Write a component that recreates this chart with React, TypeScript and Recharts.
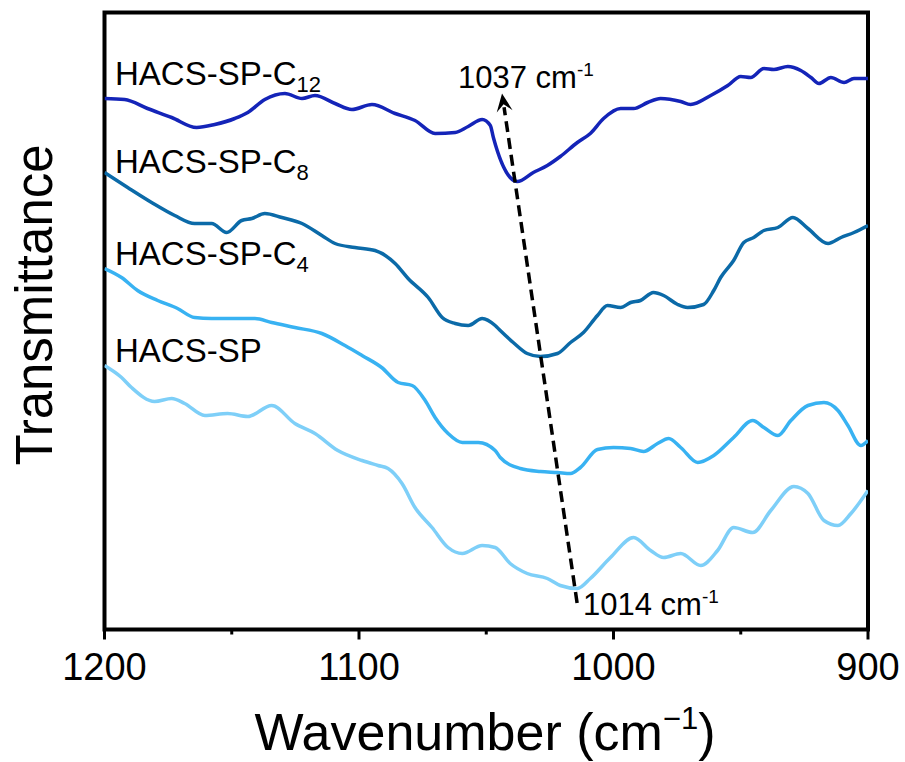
import React from "react";
import { LineChart, Line, XAxis, YAxis, ReferenceArea, ReferenceLine, Customized } from "recharts";

// wavenumber (cm-1) / transmittance (arbitrary units, offset stacked)
const c12 = [
  [1200, 531], [1192.1, 530], [1183.1, 521], [1173.6, 512], [1163.8, 502], [1156.7, 505], [1148.8, 511],
  [1143.7, 517], [1137, 530], [1129.1, 536], [1122.4, 531], [1117.3, 534], [1109.4, 526], [1102.8, 520],
  [1094.9, 525], [1085.8, 516], [1078, 509], [1070.1, 496], [1062.2, 497], [1057.1, 503], [1051.6, 510],
  [1048.4, 504], [1047.2, 492], [1040.6, 452], [1037.8, 448], [1031.5, 457], [1026, 464], [1020.9, 473],
  [1014.2, 487], [1009.1, 496], [1003.9, 511], [997.2, 521], [992.1, 521], [986.6, 527], [981.5, 531],
  [973.6, 528], [969.7, 525], [961.8, 534], [955.1, 544], [950, 553], [946.1, 552], [940.9, 561], [937, 560],
  [931.5, 563], [926.4, 559], [922.4, 552], [919.3, 546], [914.6, 552], [909.4, 547], [905.5, 551], [900, 551],
];
const c8 = [
  [1200, 457], [1190.9, 442], [1181.5, 427], [1172.4, 414], [1164.6, 406], [1157.9, 406], [1152, 397],
  [1146.1, 409], [1142.1, 411], [1137, 416], [1130.3, 412], [1122.4, 406], [1114.6, 394], [1109.4, 386],
  [1101.6, 382], [1093.7, 379], [1085.8, 366], [1080.7, 351], [1072.8, 332], [1067.3, 312], [1062.2, 306],
  [1057.1, 304], [1051.6, 311], [1046.5, 304], [1044.5, 299], [1039.4, 287], [1033.9, 276], [1028.7, 273],
  [1022, 276], [1016.9, 287], [1011.8, 297], [1006.3, 314], [1002.4, 324], [997.2, 322], [993.3, 327],
  [989.4, 329], [984.3, 337], [980.3, 334], [974.8, 325], [970.9, 322], [964.6, 325], [960.6, 339],
  [957.9, 352], [952.8, 369], [948.8, 387], [944.9, 392], [940.9, 399], [935.4, 402], [929.5, 412],
  [923.6, 401], [915.7, 386], [910.6, 392], [905.5, 397], [900, 404],
];
const c4 = [
  [1200, 361], [1193.3, 352], [1187, 339], [1179.1, 329], [1171.3, 321], [1164.6, 312], [1157.9, 311],
  [1151.6, 311], [1140.9, 311], [1134.3, 307], [1125.2, 302], [1114.6, 296], [1105.5, 284], [1098.8, 274],
  [1091.1, 262], [1084.6, 247], [1079.1, 244], [1074, 229], [1070.1, 212], [1065, 196], [1059.4, 187],
  [1053.1, 187], [1046.5, 179], [1044.5, 172], [1036.6, 161], [1028.7, 158], [1022, 157], [1016.9, 156],
  [1013, 162], [1006.3, 180], [1000, 182], [993.3, 181], [988.2, 178], [982.7, 186], [978.3, 191],
  [973.6, 182], [966.9, 167], [960.6, 174], [952.8, 192], [945.3, 209], [940.9, 202], [935.4, 194],
  [930.3, 209], [923.6, 224], [917.3, 227], [911.8, 219], [907.9, 204], [902.8, 184], [900, 189],
];
const sp = [
  [1200, 264], [1193.3, 252], [1189.4, 242], [1180.3, 228], [1173.6, 231], [1168.5, 226], [1160.6, 214],
  [1151.6, 216], [1143.7, 213], [1134.3, 224], [1125.2, 206], [1117.3, 196], [1108.3, 179], [1098.8, 169],
  [1092.5, 164], [1088.6, 161], [1083.1, 146], [1078, 122], [1071.3, 102], [1065, 82], [1059.4, 76],
  [1051.6, 84], [1046.5, 82], [1040.6, 66], [1033.9, 56], [1026, 51], [1020.9, 44], [1014.2, 41],
  [1009.1, 51], [1001.2, 72], [992.1, 92], [985.4, 79], [980.3, 72], [973.6, 76], [965.7, 64], [959.1, 79],
  [952.8, 102], [945.3, 97], [938.2, 119], [929.1, 143], [923.6, 136], [917.3, 109], [911.8, 104],
  [906.7, 116], [900, 139],
];
const xTicks = [1200, 1150, 1100, 1050, 1000, 950, 900];
const majorTicks = [1200, 1100, 1000, 900];
const arrowFrom = { x: 1014.3, y: 26.5 };
const arrowTo = { x: 1043.8, y: 536 };

const toPts = (arr: number[][]) => arr.map(([w, t]) => ({ w, t }));
const series = [
  { name: "HACS-SP-C12", data: toPts(c12), color: "#1424b8" },
  { name: "HACS-SP-C8", data: toPts(c8), color: "#0b6aa8" },
  { name: "HACS-SP-C4", data: toPts(c4), color: "#38b2f2" },
  { name: "HACS-SP", data: toPts(sp), color: "#7ecff8" },
];

const FONT = "'Liberation Sans', Arial, sans-serif";

const Tick = (props: any) => {
  const { x, y, payload } = props;
  const major = majorTicks.includes(payload.value);
  return (
    <g>
      <line x1={x} x2={x} y1={y} y2={y + (major ? 10 : 5)} stroke="#000" strokeWidth={3} />
      {major && (
        <text x={x} y={y + 50.5} textAnchor="middle" fontSize={38} fontFamily={FONT} fill="#000">
          {payload.value}
        </text>
      )}
    </g>
  );
};

const ArrowShape = (props: any) => {
  const { x1, y1, x2, y2 } = props;
  if (x1 == null) return null;
  const dx = x2 - x1, dy = y2 - y1;
  const len = Math.sqrt(dx * dx + dy * dy);
  const ux = dx / len, uy = dy / len;
  const px = -uy, py = ux;
  const head = 18, half = 8;
  const bx = x2 - ux * head, by = y2 - uy * head;
  const ix = x2 - ux * head * 0.6, iy = y2 - uy * head * 0.6;
  return (
    <g>
      <line x1={x1} y1={y1} x2={bx + ux * 4} y2={by + uy * 4} stroke="#000" strokeWidth={3.5} strokeDasharray="11 6" />
      <path
        d={`M${x2},${y2} L${bx + px * half},${by + py * half} L${ix},${iy} L${bx - px * half},${by - py * half} Z`}
        fill="#000"
      />
    </g>
  );
};

const Texts = () => (
  <g fontFamily={FONT} fill="#000">
    <text x={115} y={85} fontSize={33}>HACS-SP-C<tspan fontSize={22} dy={7}>12</tspan></text>
    <text x={115} y={173} fontSize={33}>HACS-SP-C<tspan fontSize={22} dy={7}>8</tspan></text>
    <text x={115} y={265} fontSize={33}>HACS-SP-C<tspan fontSize={22} dy={7}>4</tspan></text>
    <text x={115} y={362} fontSize={33}>HACS-SP</text>
    <text x={458} y={88} fontSize={31}>1037 cm<tspan fontSize={19} dy={-12}>-1</tspan></text>
    <text x={583} y={615} fontSize={31}>1014 cm<tspan fontSize={19} dy={-12}>-1</tspan></text>
    <text x={485} y={750} fontSize={52} textAnchor="middle">
      Wavenumber (cm<tspan fontSize={31} dy={-21}>−1</tspan><tspan dy={21}>)</tspan>
    </text>
    <text x={52} y={305} fontSize={51} textAnchor="middle" transform="rotate(-90 52 305)">Transmittance</text>
  </g>
);

export default function App() {
  return (
    <div style={{ position: "absolute", left: 0, top: 0, background: "#fff" }}>
      <LineChart width={905} height={762} margin={{ top: 12.5, right: 37, bottom: 92.5, left: 104.5 }}>
        <XAxis
          dataKey="w"
          type="number"
          domain={[900, 1200]}
          reversed
          ticks={xTicks}
          interval={0}
          allowDataOverflow
          axisLine={false}
          tickLine={false}
          tickSize={0}
          tickMargin={0}
          height={40}
          tick={<Tick />}
        />
        <YAxis hide type="number" domain={[0, 617]} allowDataOverflow />
        {series.map((s) => (
          <Line
            key={s.name}
            data={s.data}
            dataKey="t"
            type="monotone"
            stroke={s.color}
            strokeWidth={3.5}
            dot={false}
            isAnimationActive={false}
          />
        ))}
        <ReferenceLine segment={[arrowFrom, arrowTo]} shape={<ArrowShape />} ifOverflow="visible" />
        <ReferenceArea x1={1200} x2={900} y1={0} y2={617} fill="none" stroke="#000" strokeWidth={4} ifOverflow="visible" />
        <Customized component={Texts} />
      </LineChart>
    </div>
  );
}
